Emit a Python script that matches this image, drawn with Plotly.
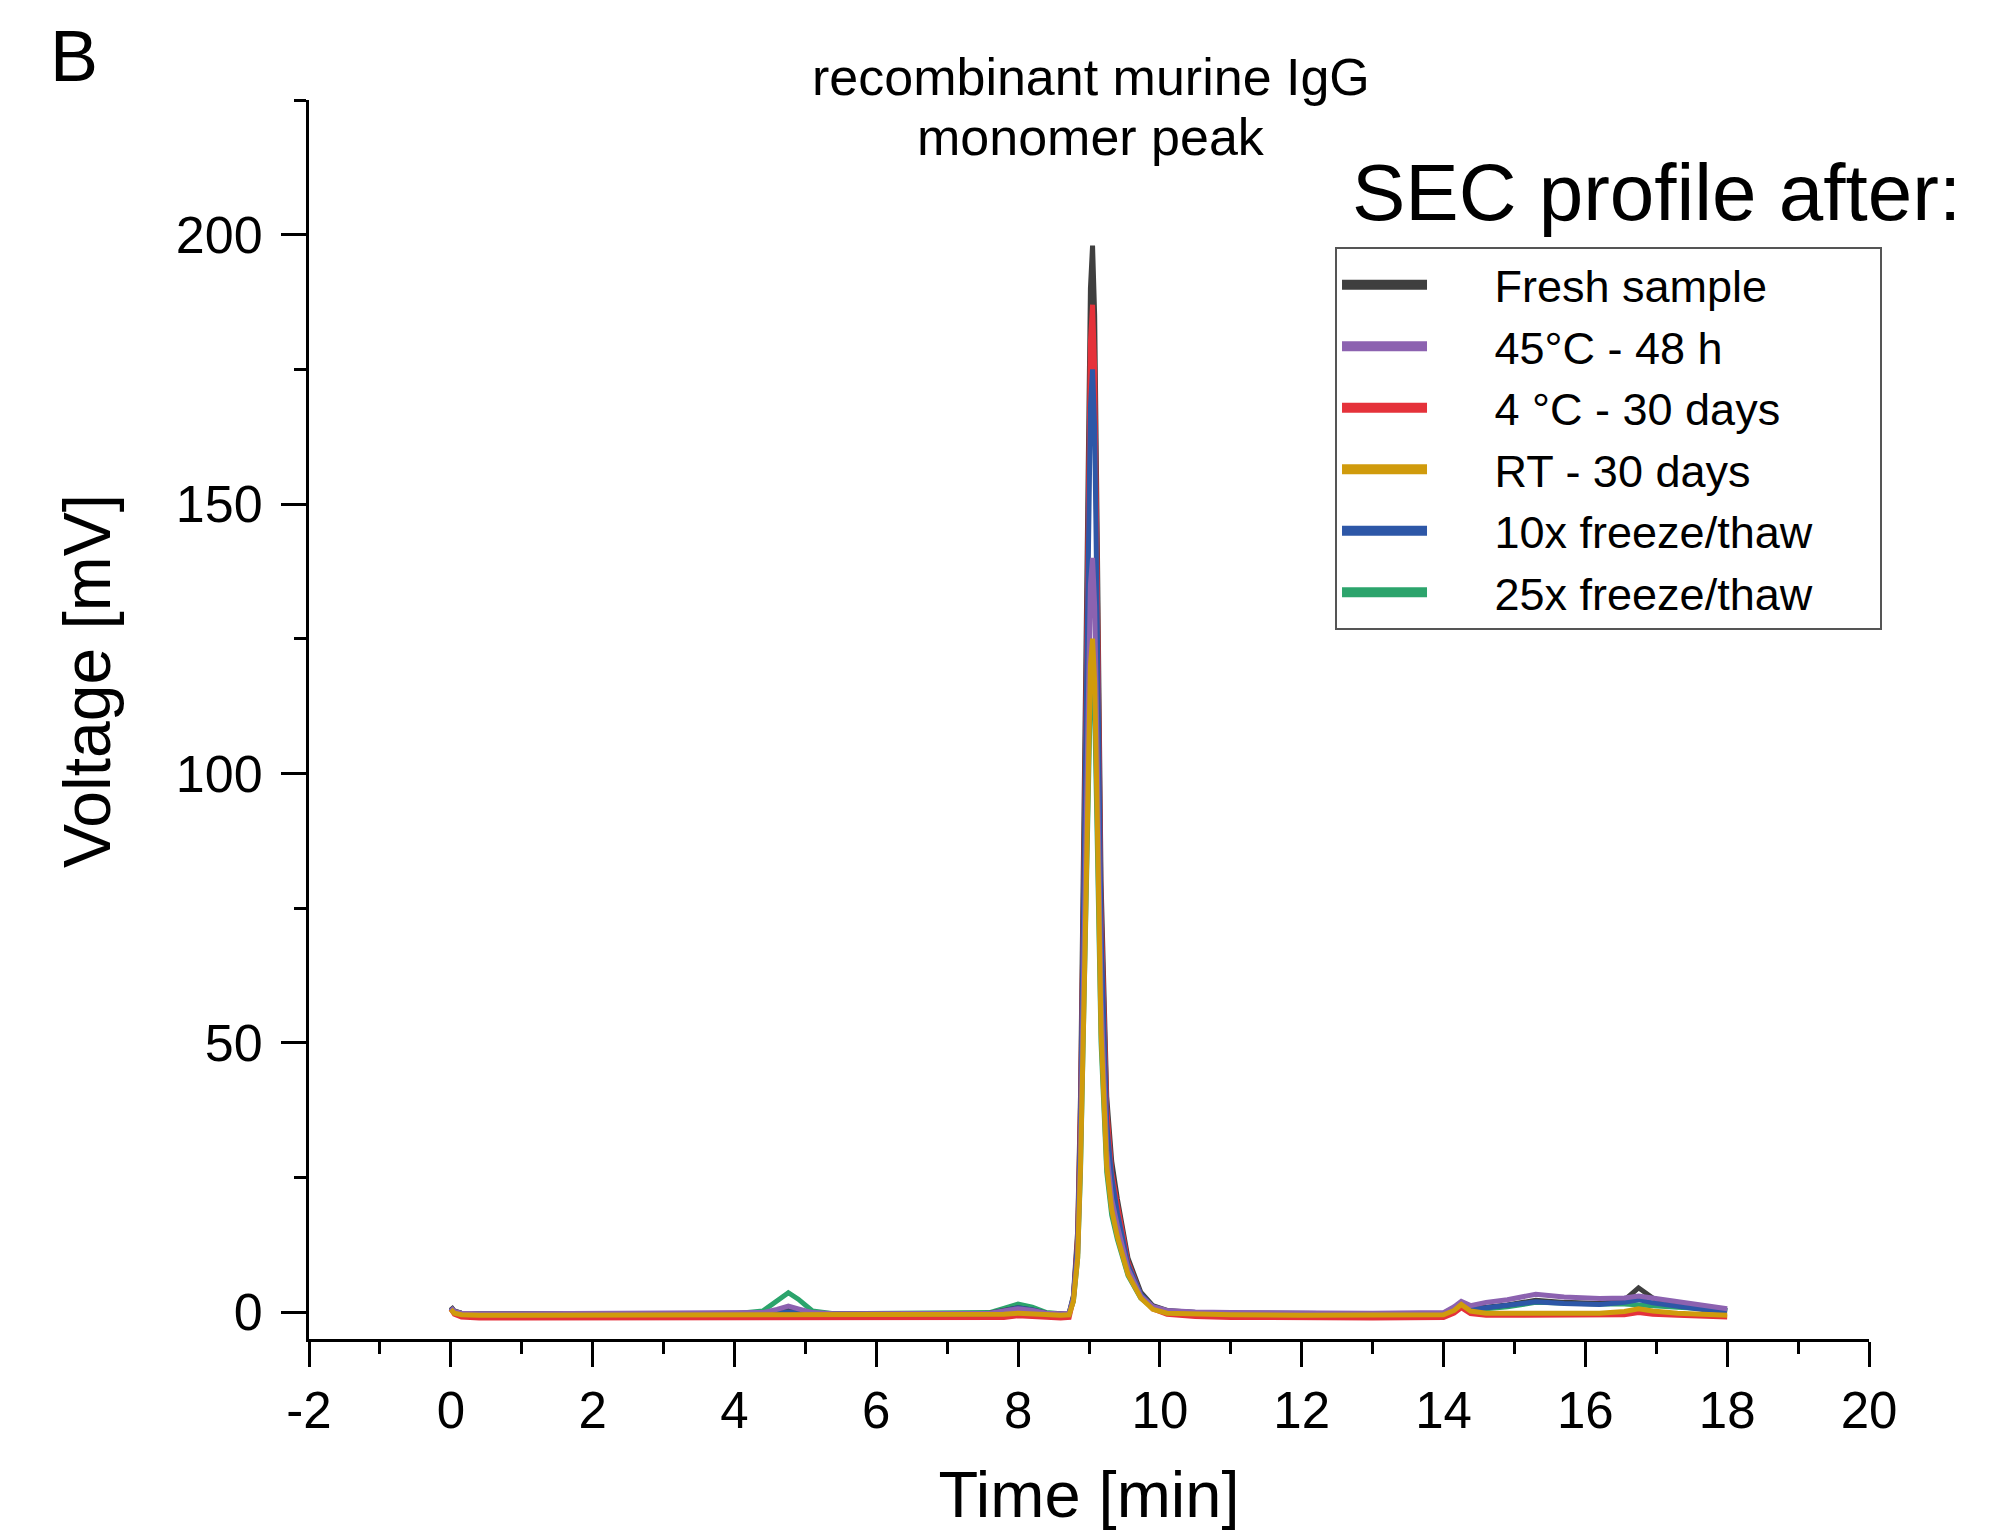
import plotly.graph_objects as go

# ---------------- data ----------------
time_min = [0.0, 0.05, 0.15, 0.4, 1.0, 2.0, 3.0, 4.0, 4.4, 4.6,
            4.76, 4.9, 5.1, 5.4, 6.0, 7.0, 7.6, 7.8, 8.0, 8.2,
            8.4, 8.6, 8.72, 8.78, 8.84, 8.88, 8.93, 8.98, 9.02, 9.05,
            9.08, 9.12, 9.17, 9.25, 9.32, 9.4, 9.55, 9.73, 9.9, 10.1,
            10.5, 11.0, 12.0, 13.0, 14.0, 14.15, 14.25, 14.38, 14.6, 14.9,
            15.3, 15.7, 16.2, 16.55, 16.75, 16.95, 17.3, 17.7, 18.0]

fresh_sample = [1.0, 0.2, -0.2, -0.3, -0.3, -0.3, -0.3, -0.3, -0.2, 0.2,
                0.6, 0.3, -0.2, -0.3, -0.3, -0.3, -0.2, 0.3, 0.8, 0.4,
                -0.2, -0.3, -0.2, 3, 15, 40, 90, 150, 190, 198,
                185, 140, 80, 40, 28, 21, 10, 3.7, 1.2, 0.3,
                -0.1, -0.2, -0.3, -0.3, -0.2, 0.8, 1.8, 0.6, 0.9, 1.3,
                2.2, 1.8, 1.6, 2.2, 4.5, 2.6, 1.2, 0.6, 0.3]

c45_48h = [0.8, 0.1, -0.2, -0.3, -0.3, -0.3, -0.3, -0.3, -0.1, 0.5,
           1.1, 0.6, -0.1, -0.3, -0.3, -0.3, -0.2, 0.2, 0.6, 0.3,
           -0.2, -0.3, -0.2, 2.5, 11, 30, 65, 108, 135, 140,
           131, 100, 58, 30, 21, 16, 8, 3.0, 1.0, 0.3,
           0.0, -0.1, -0.2, -0.2, -0.1, 1.0, 2.0, 1.2, 1.8, 2.3,
           3.3, 2.8, 2.5, 2.6, 3.0, 2.6, 2.0, 1.2, 0.6]

c4_30d = [0.6, -0.4, -0.9, -1.1, -1.1, -1.1, -1.1, -1.1, -1.1, -1.0,
          -0.9, -1.0, -1.1, -1.1, -1.1, -1.1, -1.1, -1.0, -0.7, -0.9,
          -1.1, -1.1, -1.0, 2.5, 14, 38, 85, 142, 180, 187,
          175, 132, 75, 38, 26, 20, 9.3, 3.2, 0.6, -0.4,
          -0.8, -1.0, -1.1, -1.1, -1.0, -0.2, 0.8, -0.3, -0.6, -0.6,
          -0.5, -0.6, -0.6, -0.5, -0.1, -0.4, -0.6, -0.8, -0.9]

rt_30d = [0.5, -0.2, -0.5, -0.6, -0.6, -0.6, -0.6, -0.6, -0.6, -0.5,
          -0.4, -0.5, -0.6, -0.6, -0.6, -0.6, -0.6, -0.4, -0.2, -0.4,
          -0.6, -0.6, -0.5, 2.0, 10, 27, 58, 96, 120, 125,
          117, 89, 52, 27, 19, 14, 7, 2.6, 0.5, -0.2,
          -0.4, -0.5, -0.6, -0.6, -0.5, 0.3, 1.4, 0.2, -0.2, -0.2,
          -0.1, -0.2, -0.2, 0.1, 0.6, 0.2, -0.2, -0.4, -0.6]

ft_10x = [0.8, 0.0, -0.3, -0.4, -0.4, -0.4, -0.4, -0.4, -0.4, -0.2,
          0.0, -0.2, -0.4, -0.4, -0.4, -0.4, -0.3, 0.2, 0.8, 0.4,
          -0.3, -0.4, -0.3, 2.8, 13, 35, 80, 133, 168, 175,
          164, 124, 71, 35, 25, 18.5, 8.8, 3.3, 1.0, 0.2,
          -0.2, -0.3, -0.4, -0.4, -0.3, 0.6, 1.6, 0.4, 0.8, 1.2,
          1.9, 1.6, 1.4, 1.8, 2.3, 1.7, 1.0, 0.4, 0.2]

ft_25x = [0.8, 0.1, -0.2, -0.3, -0.3, -0.3, -0.3, -0.3, 0.2, 2.2,
          3.6, 2.4, 0.2, -0.3, -0.3, -0.3, -0.1, 0.7, 1.5, 0.9,
          -0.1, -0.3, -0.2, 2.0, 10, 26, 56, 92, 115, 120,
          112, 85, 50, 26, 18, 13.5, 6.8, 2.6, 0.8, 0.2,
          -0.1, -0.2, -0.3, -0.3, -0.2, 0.5, 1.3, 0.4, 0.6, 1.0,
          1.8, 1.6, 1.5, 1.5, 1.3, 1.1, 0.9, 0.6, 0.3]

series_names = ["Fresh sample", "45°C - 48 h", "4 °C - 30 days",
                "RT - 30 days", "10x freeze/thaw", "25x freeze/thaw"]
series_values = [fresh_sample, c45_48h, c4_30d, rt_30d, ft_10x, ft_25x]
series_colors = ["#3f3f3f", "#8c62b0", "#e5323a", "#d09b0c", "#2d57a7", "#2ca46c"]

x_tick_values = [-2, 0, 2, 4, 6, 8, 10, 12, 14, 16, 18, 20]
x_tick_labels = ["-2", "0", "2", "4", "6", "8", "10", "12", "14", "16", "18", "20"]
x_minor_values = [-1, 1, 3, 5, 7, 9, 11, 13, 15, 17, 19]

# drawing order (last on top)
draw_order = [5, 0, 2, 4, 1, 3]

FONT = "Liberation Sans, Arial, Helvetica, sans-serif"
NB = "\u00a0"

fig = go.Figure()
for i in draw_order:
    fig.add_trace(go.Scatter(
        x=time_min, y=series_values[i], mode="lines",
        line=dict(color=series_colors[i], width=5),
        showlegend=False, hoverinfo="skip"))

# legend entries (thick line samples)
for i, name in enumerate(series_names):
    fig.add_trace(go.Scatter(
        x=[None], y=[None], mode="lines", name=NB * 5 + name + NB * 5,
        line=dict(color=series_colors[i], width=10), showlegend=True))

axis_common = dict(
    showline=True, linecolor="black", linewidth=3,
    ticks="outside", ticklen=25, tickwidth=3, tickcolor="black",
    showgrid=False, zeroline=False, mirror=False,
)

fig.update_xaxes(
    range=[-2, 20], tickmode="array", tickvals=x_tick_values, ticktext=x_tick_labels,
    tickfont=dict(family=FONT, size=51, color="black"),
    minor=dict(tickmode="array", tickvals=x_minor_values, ticks="outside",
               ticklen=12, tickwidth=3, tickcolor="black", showgrid=False),
    title=dict(text="Time [min]", font=dict(family=FONT, size=65, color="black"), standoff=34),
    **axis_common)
fig.update_yaxes(
    range=[-5, 225.01], dtick=50, tick0=0, ticklabelstandoff=8,
    tickfont=dict(family=FONT, size=52, color="black"),
    minor=dict(dtick=25, tick0=0, ticks="outside", ticklen=12, tickwidth=3,
               tickcolor="black", showgrid=False),
    **axis_common)

fig.update_layout(
    width=1995, height=1526,
    margin=dict(l=301, r=134, t=92, b=195, autoexpand=False),
    plot_bgcolor="white", paper_bgcolor="white",
    font=dict(family=FONT, color="black"),
    legend=dict(
        x=0.6577, y=0.8814, xanchor="left", yanchor="top",
        bordercolor="#555555", borderwidth=2, bgcolor="white",
        font=dict(family=FONT, size=45, color="black"),
        itemwidth=85, traceorder="normal"),
    annotations=[
        dict(text="B", x=-0.1506, y=1.0355, xref="paper", yref="paper",
             showarrow=False, xanchor="center", yanchor="middle",
             font=dict(family=FONT, size=72, color="black")),
        dict(text="recombinant murine IgG", x=0.5013, y=1.0186, xref="paper", yref="paper",
             showarrow=False, xanchor="center", yanchor="middle",
             font=dict(family=FONT, size=52, color="black")),
        dict(text="monomer peak", x=0.5013, y=0.9701, xref="paper", yref="paper",
             showarrow=False, xanchor="center", yanchor="middle",
             font=dict(family=FONT, size=52, color="black")),
        dict(text="SEC profile after:", x=0.8641, y=0.9257, xref="paper", yref="paper",
             showarrow=False, xanchor="center", yanchor="middle",
             font=dict(family=FONT, size=80, color="black")),
        dict(text="Voltage [mV]", x=-0.1423, y=0.531, xref="paper", yref="paper",
             showarrow=False, xanchor="center", yanchor="middle", textangle=-90,
             font=dict(family=FONT, size=66, color="black")),
    ],
)

fig.write_html("out.html")
